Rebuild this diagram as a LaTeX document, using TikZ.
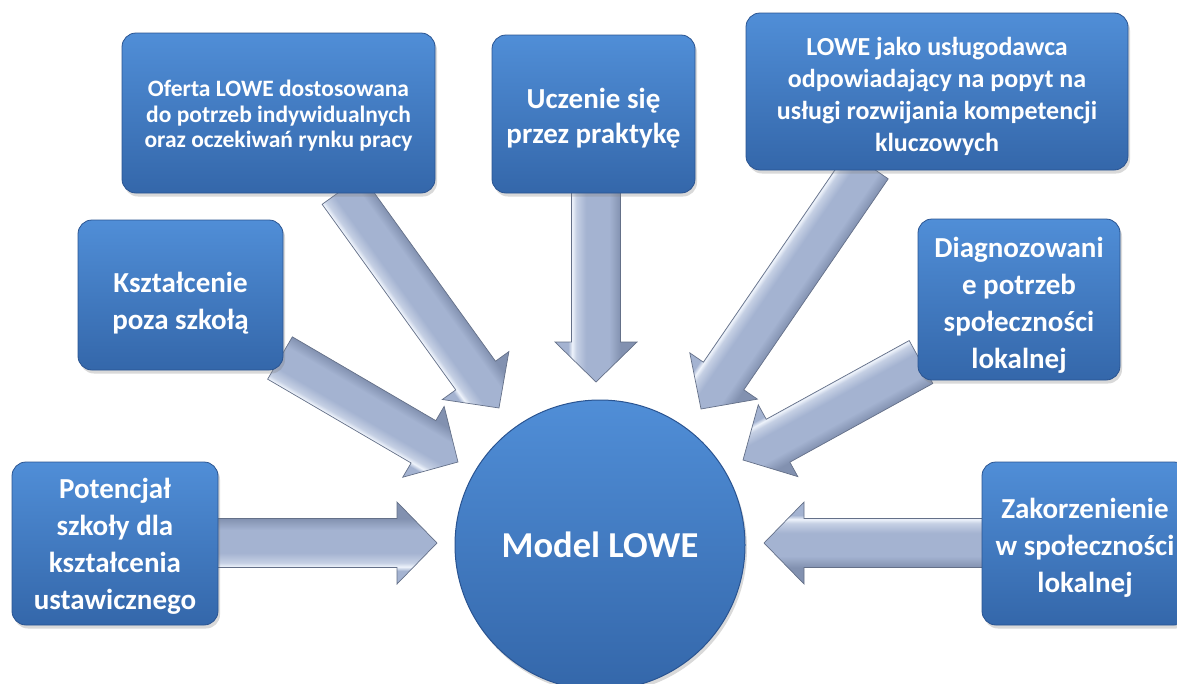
\documentclass[tikz,border=0pt]{standalone}
\usepackage{fontspec}
\setmainfont{Carlito}
\usetikzlibrary{shadows}
\definecolor{boxtop}{RGB}{80,142,215}
\definecolor{boxbot}{RGB}{52,103,170}
\definecolor{boxedge}{RGB}{42,84,145}
\definecolor{armid}{RGB}{164,179,209}
\definecolor{arhl}{RGB}{238,243,251}
\definecolor{ardark}{RGB}{130,145,176}
\definecolor{aredge}{RGB}{100,112,136}
\pgfdeclareverticalshading{arrowshade}{100bp}{color(0bp)=(armid); color(33bp)=(armid); color(35.5bp)=(arhl); color(38bp)=(armid!55!arhl); color(44bp)=(armid); color(58bp)=(armid); color(65bp)=(ardark); color(100bp)=(ardark)}
\tikzset{
  bluebox/.style={rounded corners=14pt, draw=boxedge, line width=0.8pt,
    top color=boxtop, bottom color=boxbot, inner sep=0pt,
    drop shadow={shadow xshift=2pt, shadow yshift=-3.5pt, opacity=0.3}},
  boxtext/.style={text=white, align=center, inner sep=0pt},
  arrowbody/.style={shading=arrowshade, draw=aredge, line width=0.7pt, line join=miter},
}
\newcommand\blockarr[2]{%
  \path (#1); \pgfgetlastxy{\arax}{\aray}%
  \path (#2); \pgfgetlastxy{\arbx}{\arby}%
  \pgfmathsetmacro\arang{atan2(\arby-\aray,\arbx-\arax)}%
  \pgfmathsetmacro\arlen{veclen(\arbx-\arax,\arby-\aray)}%
  \begin{scope}[transform canvas={shift={(\arax,\aray)},rotate=\arang}]
    \path[arrowbody] (0,-24.5) -- (\arlen-40,-24.5) -- (\arlen-40,-41) -- (\arlen,0)
      -- (\arlen-40,41) -- (\arlen-40,24.5) -- (0,24.5) -- cycle;
  \end{scope}}
\begin{document}
\begin{tikzpicture}[x=1pt,y=-1pt]
\useasboundingbox (0,0) rectangle (1177,683);
% connector end points
\coordinate (s1) at (342,190);  \coordinate (t1) at (499,408);
\coordinate (s2) at (596,190);  \coordinate (t2) at (596,382);
\coordinate (s3) at (868,165);  \coordinate (t3) at (701,409);
\coordinate (s4) at (280,358);  \coordinate (t4) at (458,462);
\coordinate (s5) at (921,362);  \coordinate (t5) at (743,460);
\coordinate (s6) at (215,543);  \coordinate (t6) at (437,543);
\coordinate (s7) at (985,543);  \coordinate (t7) at (764,543);
\blockarr{s1}{t1}
\blockarr{s2}{t2}
\blockarr{s3}{t3}
\blockarr{s4}{t4}
\blockarr{s5}{t5}
\blockarr{s6}{t6}
\blockarr{s7}{t7}
% boxes
\node[bluebox, minimum width=313pt, minimum height=160pt,
  label={[boxtext, yshift=-3pt, font=\bfseries\fontsize{23.5}{25.5}\selectfont]center:{Oferta LOWE dostosowana\\do potrzeb indywidualnych\\oraz oczekiwań rynku pracy}}] (b1) at (278.5,113) {};
\node[bluebox, minimum width=203pt, minimum height=158pt,
  label={[boxtext, yshift=-4pt, font=\bfseries\fontsize{29}{35}\selectfont]center:{Uczenie się\\przez praktykę}}] (b2) at (593.5,114) {};
\node[bluebox, minimum width=382pt, minimum height=157pt,
  label={[boxtext, yshift=-5pt, font=\bfseries\fontsize{26}{32}\selectfont]center:{LOWE jako usługodawca\\odpowiadający na popyt na\\usługi rozwijania kompetencji\\kluczowych}}] (b3) at (937,91.5) {};
\node[bluebox, minimum width=205pt, minimum height=150pt,
  label={[boxtext, yshift=-8pt, font=\bfseries\fontsize{29}{37}\selectfont]center:{Kształcenie\\poza szkołą}}] (b4) at (180.5,295) {};
\node[bluebox, minimum width=202pt, minimum height=161pt,
  label={[boxtext, yshift=-6pt, font=\bfseries\fontsize{29}{37}\selectfont]center:{Diagnozowani\\e potrzeb\\społeczności\\lokalnej}}] (b5) at (1019,299.5) {};
\node[bluebox, minimum width=206pt, minimum height=163pt,
  label={[boxtext, yshift=-3pt, font=\bfseries\fontsize{29}{37}\selectfont]center:{Potencjał\\szkoły dla\\kształcenia\\ustawicznego}}] (b6) at (115,543.5) {};
\node[bluebox, minimum width=206pt, minimum height=163pt,
  label={[boxtext, yshift=-4pt, font=\bfseries\fontsize{29}{37}\selectfont]center:{Zakorzenienie\\w społeczności\\lokalnej}}] (b7) at (1085,543.5) {};
\node[circle, draw=boxedge, line width=1pt, top color=boxtop, bottom color=boxbot,
  minimum size=290pt, inner sep=0pt, text=white, font=\bfseries\fontsize{36.5}{40}\selectfont,
  drop shadow={shadow xshift=2pt, shadow yshift=-3.5pt, opacity=0.3}] (c) at (600,545) {Model LOWE};
\end{tikzpicture}
\end{document}
